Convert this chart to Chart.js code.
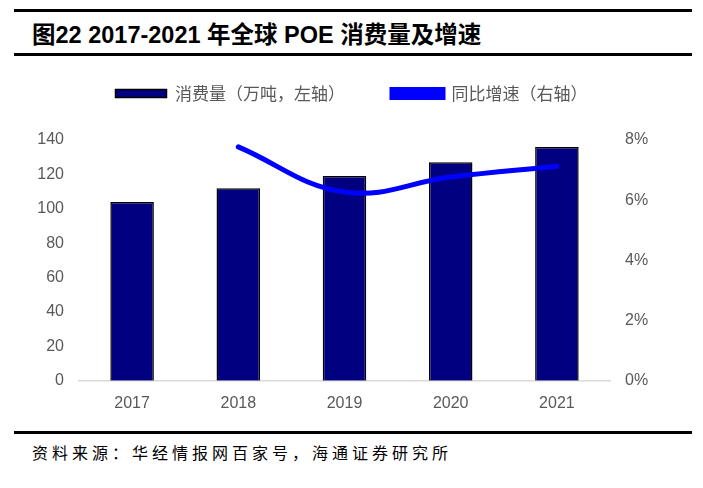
<!DOCTYPE html>
<html>
<head>
<meta charset="utf-8">
<script src="https://cdn.jsdelivr.net/npm/chart.js@4.4.1/dist/chart.umd.min.js"></script>
<style>
  html, body { margin: 0; padding: 0; background: #fff; }
  body { width: 703px; height: 488px; position: relative; overflow: hidden; }
  .rule { position: absolute; left: 14px; width: 678px; height: 3px; background: #000; }
  #title { position: absolute; left: 32px; top: 16px; font: bold 23.5px "Liberation Sans", "Noto Sans CJK SC", sans-serif; color: #000; white-space: nowrap; line-height: 34px; }
  #title .cn { font-family: "Noto Sans CJK SC", sans-serif; }
  #source { position: absolute; left: 32px; top: 440px; font: 16px "Noto Sans CJK SC", sans-serif; letter-spacing: 4px; color: #000; white-space: nowrap; line-height: 24px; }
  #wrap { position: absolute; left: 0; top: 38px; width: 703px; height: 387px; }
</style>
</head>
<body>
<div class="rule" style="top:9px"></div>
<div id="title"><span class="cn">图</span>22 2017-2021 <span class="cn">年全球</span> POE <span class="cn">消费量及增速</span></div>
<div class="rule" style="top:53px"></div>
<div id="wrap"><canvas id="poeChart"></canvas></div>
<div class="rule" style="top:431px"></div>
<div id="source">资料来源：华经情报网百家号，海通证券研究所</div>
<script>
const years = ["2017", "2018", "2019", "2020", "2021"];
const consumption = [104, 112, 119, 127, 136];          // 万吨
const growth = [null, 0.0777, 0.0627, 0.0677, 0.0713];  // 同比增速
const leftTicks = [0, 20, 40, 60, 80, 100, 120, 140];
const rightTicks = [0, 0.02, 0.04, 0.06, 0.08];

const tickFont = { family: "Liberation Sans, Arial, sans-serif", size: 16 };

// fixed legend block height so the plot starts where the reference does
const legendHeight = {
  id: "legendHeight",
  beforeInit(chart) {
    const fit = chart.legend.fit;
    chart.legend.fit = function () {
      fit.bind(chart.legend)();
      this.height = 102;
    };
  }
};

new Chart(document.getElementById("poeChart"), {
  type: "bar",
  data: {
    labels: years,
    datasets: [
      {
        type: "bar",
        label: "消费量（万吨，左轴）",
        data: consumption,
        backgroundColor: "#000080",
        borderColor: "#000000",
        borderWidth: 1.5,
        barPercentage: 0.41,
        categoryPercentage: 1,
        yAxisID: "y",
        order: 2
      },
      {
        type: "line",
        label: "同比增速（右轴）",
        data: growth,
        borderColor: "#0000ff",
        backgroundColor: "#0000ff",
        borderWidth: 5,
        borderCapStyle: "round",
        pointRadius: 0,
        tension: 0.4,
        yAxisID: "y1",
        order: 1
      }
    ]
  },
  plugins: [legendHeight],
  options: {
    responsive: true,
    maintainAspectRatio: false,
    animation: false,
    layout: { padding: { top: 0, bottom: 7, left: 0, right: 0 } },
    plugins: {
      tooltip: { enabled: false },
      legend: {
        position: "top",
        labels: {
          sort: (a, b) => a.datasetIndex - b.datasetIndex,
          boxWidth: 51,
          boxHeight: 8,
          padding: 47,
          color: "#595959",
          font: { family: "Noto Sans CJK SC, sans-serif", size: 17 }
        }
      }
    },
    scales: {
      x: {
        grid: { display: false },
        border: { color: "#d9d9d9", width: 1.5 },
        ticks: { color: "#595959", font: tickFont, padding: 5 }
      },
      y: {
        position: "left",
        min: 0,
        max: 140,
        afterFit: s => { s.width = 79; },
        afterBuildTicks: s => { s.ticks = leftTicks.map(v => ({ value: v })); },
        grid: { display: false, drawTicks: false },
        border: { display: false },
        ticks: { color: "#595959", font: tickFont, padding: 15 }
      },
      y1: {
        position: "right",
        min: 0,
        max: 0.08,
        afterFit: s => { s.width = 93; },
        afterBuildTicks: s => { s.ticks = rightTicks.map(v => ({ value: v })); },
        grid: { display: false, drawTicks: false },
        border: { display: false },
        ticks: {
          color: "#595959",
          font: tickFont,
          padding: 15,
          callback: v => Math.round(v * 100) + "%"
        }
      }
    }
  }
});
</script>
</body>
</html>
